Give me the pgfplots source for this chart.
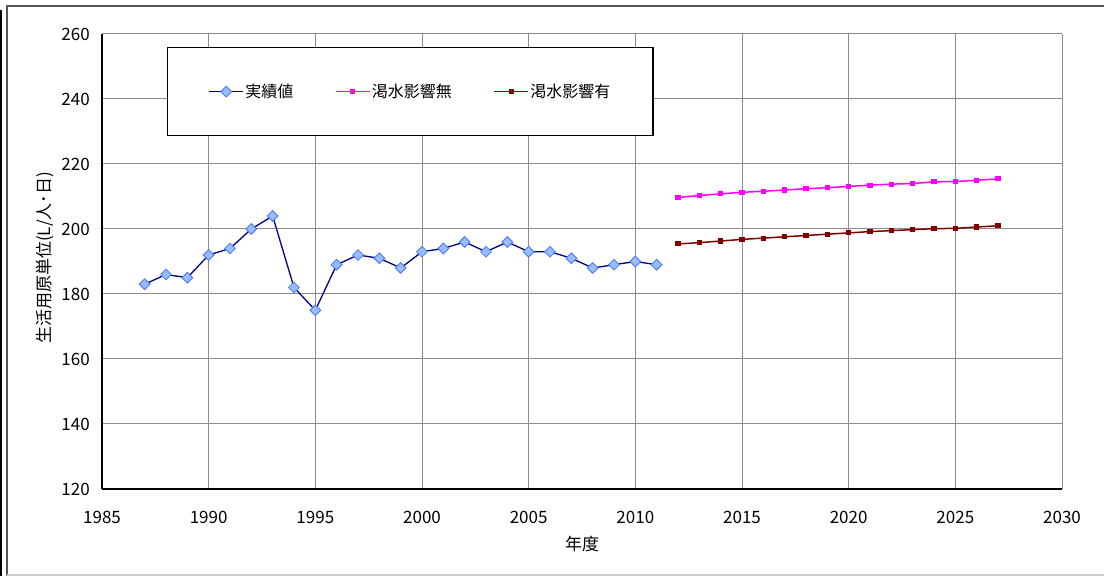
\documentclass[border=0pt]{standalone}
\usepackage{pgfplots}
\pgfplotsset{compat=1.18}
\usepackage{fontspec}
\setmainfont{Noto Sans CJK JP}

\definecolor{navyline}{RGB}{0,0,128}
\definecolor{diafill}{RGB}{153,187,255}
\definecolor{diaedge}{RGB}{70,120,255}
\definecolor{nodrought}{RGB}{255,0,255}
\definecolor{drought}{RGB}{128,0,0}
\definecolor{gridgray}{RGB}{140,140,140}
\definecolor{framegray}{RGB}{85,85,85}

\begin{document}
\begin{tikzpicture}
\useasboundingbox (0bp,0bp) rectangle (1104bp,576bp);
\fill[white] (0bp,0bp) rectangle (1104bp,576bp);
% chart area frame
\draw[line width=2bp, draw=framegray] (1104bp,570bp) -- (7bp,570bp) -- (7bp,0bp);
\draw[line width=1.5bp, draw=black!20] (7bp,1bp) -- (1104bp,1bp);
\draw[line width=2bp, black] (1bp,566bp) -- (1bp,0bp);

\begin{axis}[
  at={(102bp,87bp)}, anchor=south west,
  width=960bp, height=455bp, scale only axis,
  xmin=1985, xmax=2030, ymin=120, ymax=260,
  xtick={1985,1990,...,2030}, ytick={120,140,...,260},
  grid=major, major grid style={gridgray, line width=1bp},
  axis lines*=left, axis line style={black, line width=2bp, -},
  major tick length=0pt,
  tick label style={font=\fontsize{17bp}{20bp}\selectfont},
  /pgf/number format/assume math mode=true,
  /pgf/number format/1000 sep={},
  xticklabel style={inner sep=0pt, yshift=-22bp},
  yticklabel style={inner sep=0pt, xshift=-12bp},
  xlabel={年度}, ylabel={生活用原単位(L/人･日)},
  label style={font=\fontsize{17bp}{20bp}\selectfont},
  xlabel style={at={(axis description cs:0.5,-0.1209)}, anchor=center},
  ylabel style={at={(axis description cs:-0.0594,0.508)}, anchor=center},
  legend columns=3,
  legend cell align=left,
  legend style={at={(0.0677,0.9714)}, anchor=north west, draw=black,
    line width=1.2bp, fill=white, inner xsep=41bp, inner ysep=35bp,
    font=\fontsize{16bp}{19bp}\selectfont, nodes={inner sep=1.5bp},
    /tikz/every even column/.append style={column sep=40bp}},
  legend image code/.code={\draw[mark repeat=2, mark phase=2]
    plot coordinates {(0bp,0bp) (17bp,0bp) (34bp,0bp)};},
]
% recorded values
\addplot[navyline, line width=1.3bp, mark=square*, mark size=3.8bp,
  mark options={rotate=45, fill=diafill, draw=diaedge, line width=0.8bp}]
  coordinates {
  (1987,183) (1988,186) (1989,185) (1990,192) (1991,194) (1992,200)
  (1993,204) (1994,182) (1995,175) (1996,189) (1997,192) (1998,191)
  (1999,188) (2000,193) (2001,194) (2002,196) (2003,193) (2004,196)
  (2005,193) (2006,193) (2007,191) (2008,188) (2009,189) (2010,190)
  (2011,189)};
\addlegendentry{実績値}
% projection without drought effect
\addplot[nodrought, line width=1.5bp, mark=square*, mark size=1.8bp]
  coordinates {
  (2012,209.7) (2013,210.3) (2014,210.8) (2015,211.3) (2016,211.6)
  (2017,212.0) (2018,212.4) (2019,212.7) (2020,213.1) (2021,213.5)
  (2022,213.8) (2023,214.0) (2024,214.5) (2025,214.6) (2026,215.0)
  (2027,215.4)};
\addlegendentry{渇水影響無}
% projection with drought effect
\addplot[drought, line width=1.5bp, mark=square*, mark size=1.8bp]
  coordinates {
  (2012,195.4) (2013,195.8) (2014,196.3) (2015,196.8) (2016,197.2)
  (2017,197.6) (2018,198.0) (2019,198.4) (2020,198.8) (2021,199.2)
  (2022,199.5) (2023,199.8) (2024,200.1) (2025,200.2) (2026,200.6)
  (2027,201.0)};
\addlegendentry{渇水影響有}
\end{axis}
\end{tikzpicture}
\end{document}
